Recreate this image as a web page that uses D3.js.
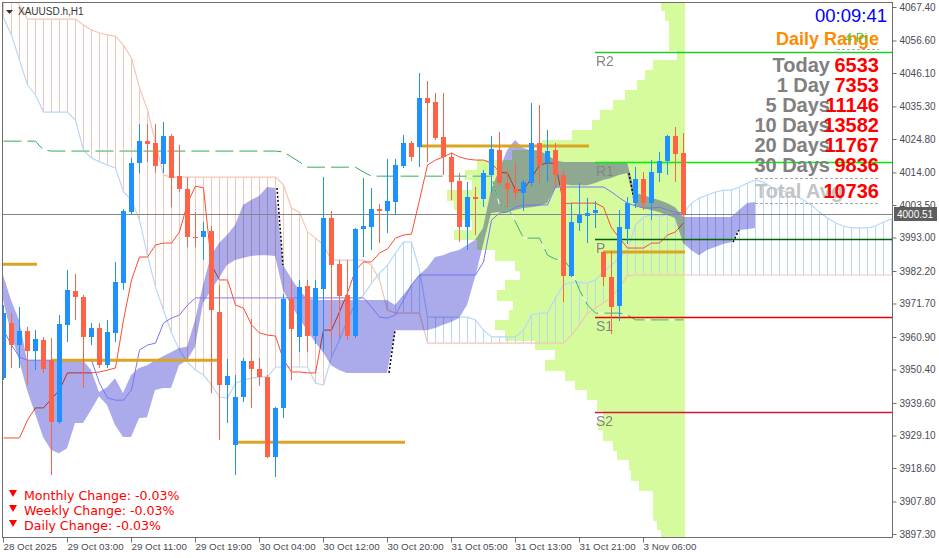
<!DOCTYPE html>
<html><head><meta charset="utf-8">
<script src="https://cdn.jsdelivr.net/npm/d3@7"></script>
<style>
html,body{margin:0;padding:0;background:#fff;}
svg{display:block;}
</style></head><body>
<svg id="chart" width="939" height="558"></svg>
<script>
// ---------------- DATA ----------------
const symbolTitle = "XAUUSD.h,H1";
const open = [3947.6,3965.4,3958.3,3962.8,3956.4,3959.9,3953.4,3933.4,3964.8,3975.7,
 3973.8,3960.9,3963.8,3951.8,3962.2,3978.3,4001.2,4017.0,4024.2,4023.5,
 4016.7,4025.8,4012.8,4008.7,3993.2,3993.2,3995.1,3968.9,3945.4,3926.0,
 3941.5,3953.1,3950.5,3948.0,3922.2,3938.0,3973.1,3960.9,3977.3,3961.2,
 3976.4,3999.3,3984.4,3974.4,3961.2,3995.7,3996.4,4002.2,4001.6,4004.5,
 4016.1,4023.5,4022.3,4038.0,4036.7,4025.4,4019.0,4011.2,3996.4,4006.1,
 4005.4,4013.2,4021.2,4010.6,4008.7,4007.4,4010.6,4023.5,4017.0,4021.2,
 4013.2,3980.6,3997.7,3999.9,4000.9,3988.3,3980.2,3970.9,3995.7,4004.1,
 4011.9,4004.1,4013.8,4017.7,4025.8,4020.3];
const high = [3971.2,3968.6,3970.6,3964.1,3963.1,3960.9,3960.6,3968.0,3982.5,3981.1,
 3974.4,3965.4,3965.4,3966.4,3985.1,4002.2,4018.7,4029.6,4029.6,4029.6,
 4030.3,4026.4,4022.9,4012.5,4001.2,3998.0,3996.7,3977.7,3953.8,3948.6,
 3954.1,3966.7,3954.1,3948.6,3938.3,3974.8,3978.6,3979.3,3979.3,3979.3,
 4012.5,4001.5,3985.7,3985.7,3996.0,4012.2,4009.0,4003.9,4018.3,4018.3,
 4026.1,4024.2,4046.1,4043.5,4039.6,4039.6,4020.3,4013.8,4010.9,4009.3,
 4014.8,4025.8,4027.1,4014.8,4017.4,4011.6,4036.4,4035.8,4027.7,4023.5,
 4014.8,4004.1,4010.6,4005.8,4004.8,3988.6,3988.6,4001.9,4006.1,4015.7,
 4014.1,4018.0,4020.6,4026.1,4028.7,4026.7];
const low = [3947.0,3950.9,3950.9,3945.4,3950.2,3949.2,3916.3,3932.8,3959.2,3966.4,
 3944.4,3958.3,3950.9,3950.9,3959.2,3976.0,4000.2,4013.8,4017.4,4013.8,
 4013.8,4002.8,4007.7,3989.9,3989.9,3985.7,3942.8,3927.6,3933.1,3916.3,
 3939.9,3938.0,3945.1,3921.8,3915.7,3934.7,3947.0,3956.0,3956.0,3958.5,
 3956.7,3960.9,3961.2,3959.9,3960.6,3986.7,3989.0,3991.2,3994.4,4000.2,
 4015.4,4017.7,4015.7,4017.4,4024.5,4013.2,4005.1,3991.5,3989.0,3993.8,
 4002.8,4007.4,4009.9,4002.5,4005.1,4001.5,4009.6,4010.6,4010.9,4009.3,
 3972.2,3980.2,3995.1,3991.2,3996.0,3977.3,3961.8,3966.0,3990.8,4002.5,
 4001.9,3998.6,4010.9,4013.2,4010.9,3999.6];
const close = [3968.6,3958.3,3962.8,3956.4,3960.2,3950.5,3933.4,3965.1,3976.0,3973.8,
 3960.9,3963.8,3951.8,3962.5,3978.6,4001.5,4017.0,4024.2,4023.2,4016.1,
 4025.8,4012.2,4008.7,3993.2,3992.8,3995.1,3969.6,3945.4,3948.3,3941.5,
 3953.1,3950.5,3948.0,3922.2,3938.0,3973.1,3963.4,3977.0,3961.2,3976.7,
 3999.3,3984.1,3974.1,3961.2,3995.7,3996.7,4002.2,4001.6,4004.8,4016.4,
 4023.5,4019.0,4038.0,4036.4,4025.1,4019.0,4010.9,3996.4,4006.1,4005.4,
 4013.8,4021.6,4010.6,4008.7,4007.4,4010.9,4023.5,4016.4,4020.9,4013.2,
 3980.6,3998.0,4000.3,4000.9,4001.9,3980.2,3970.6,3996.4,4004.1,4011.9,
 4004.1,4014.1,4017.7,4025.8,4020.0,4000.51];

const tenkan = [3928.3,3928.3,3928.3,3934.1,3938.0,3938.0,3940.9,3943.8,3949.3,3949.3,
 3949.3,3949.3,3949.6,3950.2,3950.9,3966.4,3979.3,3986.7,3986.7,3990.6,
 3991.2,3991.2,3994.8,4004.1,4009.6,4009.0,3984.1,3979.3,3979.3,3971.2,
 3970.2,3964.8,3962.2,3961.5,3961.2,3953.5,3949.6,3949.6,3949.3,3949.3,
 3963.1,3963.1,3969.0,3975.1,3982.5,3985.1,3985.1,3988.0,3989.3,3992.8,
 3993.8,3994.1,4005.1,4016.4,4018.0,4019.0,4020.3,4019.0,4018.3,4018.0,
 4018.0,4017.0,4014.1,4013.8,4008.3,4008.3,4012.2,4016.4,4017.0,4017.0,
 4003.8,4004.1,4004.1,4004.1,4004.1,4002.8,3996.1,3992.8,3989.6,3989.6,
 3989.6,3991.2,3991.2,3993.8,3994.8,3997.7];
const kijun = [3963.1,3958.3,3954.4,3953.4,3953.4,3953.4,3953.4,3953.4,3953.4,3953.4,
 3953.4,3953.4,3946.0,3941.2,3940.5,3940.5,3943.8,3956.7,3958.3,3958.9,
 3965.4,3967.0,3968.0,3971.2,3973.5,3973.5,3973.5,3973.5,3973.5,3973.5,
 3973.5,3973.5,3973.5,3973.5,3973.5,3973.5,3973.5,3973.5,3973.5,3973.5,
 3973.5,3973.5,3973.5,3973.5,3973.5,3973.5,3970.6,3967.3,3967.0,3968.0,
 3972.8,3977.7,3980.9,3980.9,3980.9,3980.9,3980.9,3980.9,3980.9,3980.9,
 3985.1,3998.6,4000.9,4001.2,4002.8,4003.5,4003.5,4003.5,4003.5,4009.3,
 4009.3,4009.3,4009.3,4009.3,4009.3,4009.3,4007.7,4005.8,4004.1,4003.2,
 4002.5,4002.5,4002.8,4001.9,4001.2,4000.9];
const greenLine = [4024.1,4024.1,4024.1,4024.1,4024.1,4021.2,4020.9,4020.9,4020.9,4020.9,
 4020.9,4020.9,4020.9,4020.9,4020.9,4020.9,4020.9,4020.9,4020.9,4020.9,
 4020.9,4020.9,4020.9,4020.9,4020.9,4020.9,4020.9,4020.9,4020.9,4020.9,
 4020.9,4020.9,4020.9,4020.9,4020.9,4020.6,4019.0,4017.4,4015.7,4015.7,
 4015.7,4015.7,4015.7,4015.7,4015.7,4014.1,4012.8,4012.8,4012.8,4012.8,
 4012.8,4012.8,4012.8,4012.8,4012.8,4012.8,4012.8,4012.8,4012.8,4012.8,
 4012.8,4012.8,4003.5,4002.8,3998.0,3992.8,3992.8,3992.8,3987.3,3986.0,
 3986.0,3982.5,3976.0,3971.2,3968.6,3968.6,3968.6,3968.6,3968.0,3966.4,
 3966.4,3966.4,3966.4,3966.4,3966.4,3966.4];
const spanA = [4063.9,4058.4,4050.3,4042.2,4039.0,4033.5,4033.5,4033.5,4033.5,4030.9,
 4021.2,4018.7,4017.4,4016.4,4015.4,4007.7,4005.1,3998.6,3987.3,3977.0,
 3969.6,3962.2,3956.7,3952.8,3950.2,3948.6,3945.4,3941.5,3941.2,3946.0,
 3947.0,3947.6,3948.0,3948.0,3951.2,3951.2,3951.2,3951.2,3951.2,3946.0,
 3945.4,3954.4,3959.9,3966.4,3971.9,3974.4,3978.3,3981.5,3984.1,3988.0,
 3991.5,3991.5,3982.5,3967.3,3967.3,3967.3,3967.3,3967.3,3967.3,3966.4,
 3963.1,3960.9,3960.9,3960.9,3960.9,3963.1,3968.0,3968.6,3968.6,3973.5,
 3977.7,3978.6,3978.6,3978.3,3979.3,3981.9,3984.1,3986.4,3989.0,3997.0,
 3999.6,4000.3,3999.9,4000.3,4000.6,4000.9,4004.1,4005.8,4006.7,4007.7,
 4008.3,4008.3,4009.3,4010.6,4011.6,4010.9,4009.3,4008.3,4007.7,4006.4,
 4005.1,4003.5,4001.2,3999.3,3997.7,3996.7,3996.1,3996.1,3996.1,3996.7,
 3998.0,3999.0];
const spanB = [4074.5,4071.3,4068.0,4063.5,4063.5,4063.5,4063.5,4063.5,4063.5,4063.5,
 4061.6,4060.0,4059.0,4058.4,4058.0,4055.1,4050.9,4041.3,4034.2,4023.5,
 4013.2,4012.5,4012.5,4012.5,4012.5,4012.5,4012.5,4012.5,4012.5,4012.5,
 4012.5,4012.5,4012.5,4012.5,4012.5,4009.9,4002.5,4001.2,3994.8,3992.8,
 3990.6,3985.7,3985.7,3985.7,3985.7,3985.7,3984.1,3979.3,3969.6,3968.6,
 3968.6,3968.6,3968.6,3958.9,3958.9,3958.9,3958.9,3958.9,3958.9,3958.9,
 3958.9,3958.9,3958.9,3958.9,3958.9,3958.9,3958.9,3958.9,3958.9,3958.9,
 3958.9,3961.5,3964.8,3968.6,3970.2,3971.9,3973.8,3977.0,3980.6,3980.9,
 3980.9,3980.9,3980.9,3980.9,3980.9,3980.9,3980.9,3980.9,3980.9,3980.9,
 3980.9,3980.9,3980.9,3980.9,3980.9,3980.9,3980.9,3980.9,3980.9,3980.9,
 3980.9,3980.9,3980.9,3980.9,3980.9,3980.9,3980.9,3980.9,3980.9,3980.9,
 3980.9,3980.9];
const cloudTop = [3980.9,3972.8,3966.4,3953.4,3953.4,3953.4,3953.4,3953.4,3953.4,3953.4,
 3953.4,3950.2,3943.1,3944.7,3947.6,3942.8,3948.6,3950.9,3951.8,3953.4,
 3954.7,3956.0,3957.3,3957.7,3966.4,3977.7,3987.3,3991.2,3993.8,3997.0,
 4003.5,4005.1,4006.4,4009.3,4009.0,3984.1,3979.9,3976.0,3973.5,3972.8,
 3972.8,3972.8,3972.8,3972.8,3972.8,3972.8,3972.8,3972.8,3972.8,3971.2,
 3974.4,3977.7,3980.9,3983.2,3986.7,3987.3,3988.3,3989.0,3990.6,3992.2,
 3996.1,4008.3,4014.8,4021.2,4024.5,4021.9,4021.2,4021.2,4019.6,4018.0,
 4017.4,4017.4,4017.4,4017.4,4017.4,4017.4,4017.4,4017.4,4017.4,4007.4,
 4006.7,4005.8,4005.1,4004.1,4002.8,3999.6,3999.6,3999.6,3999.6,3999.6,
 3999.6,3999.6,4001.9,4004.1,4004.5];
const cloudBottom = [3972.8,3962.2,3953.4,3943.8,3936.3,3928.6,3924.4,3923.4,3925.0,3933.1,
 3933.1,3937.3,3941.8,3938.9,3932.5,3928.6,3928.6,3934.7,3935.0,3943.8,
 3944.4,3944.4,3951.8,3953.4,3957.7,3971.9,3976.0,3979.9,3984.1,3985.7,
 3986.4,3987.0,3987.3,3987.3,3987.0,3976.0,3971.2,3967.0,3963.1,3959.3,
 3956.0,3951.8,3950.2,3949.3,3949.3,3949.3,3949.3,3949.3,3949.3,3963.1,
 3963.1,3963.1,3963.1,3963.1,3963.8,3964.8,3965.7,3967.0,3971.2,3980.2,
 3990.6,4000.9,4001.2,4001.2,4001.9,4002.5,4002.8,4003.2,4004.1,4009.0,
 4010.3,4009.9,4009.9,4009.9,4010.6,4011.6,4012.2,4013.2,4013.8,4003.5,
 4002.5,4001.9,4001.2,4000.3,3999.3,3991.2,3989.0,3987.3,3989.0,3989.9,
 3990.9,3991.5,3995.4,3995.7,3996.1];
const cloudTwists = [34, 48, 78, 91];

const profileLevels = [4068.0,4064.8,4061.6,4058.4,4055.1,4051.9,4048.7,4045.5,4042.2,4039.0,
 4035.8,4032.5,4029.3,4026.1,4022.9,4019.6,4016.4,4013.2,4009.9,4006.7,
 4003.5,4000.3,3997.0,3993.8,3990.6,3987.3,3984.1,3980.9,3977.7,3974.4,
 3971.2,3968.0,3964.8,3961.5,3958.3,3955.1,3951.8,3948.6,3945.4,3942.2,
 3938.9,3935.7,3932.5,3929.2,3926.0,3922.8,3919.6,3916.3,3913.1,3909.9,
 3906.6,3903.4,3900.2,3897.0];
const profileVolumes = [24,20,16,16,16,8,32,40,48,60,72,85,93,113,143,173,208,220,213,238,
 231,225,213,231,208,190,170,165,180,188,172,176,190,180,150,130,140,120,110,98,
 88,82,87,82,72,68,56,54,46,32,32,32,28,24];

const dayStartBar = [0, 6, 29, 52, 75];
const dayEndBar   = [4, 27, 50, 73, 85];
const dayLevel    = [3984.4, 3953.4, 3926.9, 4022.5, 3988.3];

const pivotNames  = ["R2","R1","P","S1","S2"];
const pivotValues = [4052.9, 4017.4, 3992.5, 3967.3, 3936.7];
const pivotStartBar = 74;

const bidPrice = 4000.51;
const priceTicks = [4067.40,4056.60,4046.10,4035.30,4024.80,4014.00,4003.50,3993.00,3982.20,
 3971.70,3960.90,3950.40,3939.60,3929.10,3918.60,3907.80,3897.30];
const timeTickBars = [0,8,16,24,32,40,48,56,64,72,80];
const timeLabels = ["28 Oct 2025","29 Oct 03:00","29 Oct 11:00","29 Oct 19:00","30 Oct 04:00",
 "30 Oct 12:00","30 Oct 20:00","31 Oct 05:00","31 Oct 13:00","31 Oct 21:00","3 Nov 06:00"];

const timerText = "00:09:41";
const rangeTitle = "Daily Range";
const statLabels = ["Today","1 Day","5 Days","10 Days","20 Days","30 Days","Total Avg"];
const statValues = [6533, 7353, 11146, 13582, 11767, 9836, 10736];
const changeLabels = ["Monthly Change: ","Weekly Change: ","Daily Change: "];
const changeValues = [-0.03, -0.03, -0.03];

// ---------------- CHART ----------------
const svg = d3.select("#chart");
const FONT = "'Liberation Sans', Arial, sans-serif";
const x = d3.scaleLinear().domain([0, 111]).range([3, 891]);
const y = d3.scaleLinear().domain([3897.3, 4067.4]).range([534, 7]);
const PL = 3, PR = 892, PT = 3, PB = 537;

svg.append("rect").attr("width",939).attr("height",558).attr("fill","#fff");
svg.append("defs").append("clipPath").attr("id","plot")
  .append("rect").attr("x",PL).attr("y",PT).attr("width",PR-PL).attr("height",PB-PT);
const plot = svg.append("g").attr("clip-path","url(#plot)");

// volume profile
const profileRight = x(85) + 1.5;
const step = profileLevels[0] - profileLevels[1];
const wScale = d3.scaleLinear().domain([0, 1]).range([0, 1]);
plot.append("g").attr("shape-rendering","crispEdges").selectAll("rect")
  .data(profileLevels).join("rect")
  .attr("x",(d,i)=>profileRight - wScale(profileVolumes[i]))
  .attr("width",(d,i)=>wScale(profileVolumes[i]))
  .attr("y",d=>y(d+step/2))
  .attr("height",d=>y(d-step/2)-y(d+step/2)+0.5)
  .attr("fill","#D5FB9D");

// span hatch
const PEACH = "#F4C6B4", LBLUE = "#B8D8F8";
plot.append("g").attr("shape-rendering","crispEdges").selectAll("line")
  .data(spanA).join("line")
  .attr("x1",(d,i)=>Math.round(x(i))+0.5).attr("x2",(d,i)=>Math.round(x(i))+0.5)
  .attr("y1",d=>y(d)).attr("y2",(d,i)=>y(spanB[i]))
  .attr("stroke",(d,i)=>spanB[i] > d ? PEACH : LBLUE).attr("stroke-width",1);

const lineGen = d3.line().x((d,i)=>Math.round(x(i))+0.5).y(d=>y(d));
plot.append("path").datum(spanB).attr("d",lineGen).attr("fill","none").attr("stroke",PEACH).attr("stroke-width",1.2);
plot.append("path").datum(spanA).attr("d",lineGen).attr("fill","none").attr("stroke",LBLUE).attr("stroke-width",1.2);

// tenkan (under cloud)
plot.append("path").datum(tenkan).attr("d",lineGen).attr("fill","none").attr("stroke","#FF4A30").attr("stroke-width",1);

// purple cloud
const area = d3.area().x((d,i)=>x(i)).y0((d,i)=>y(cloudBottom[i])).y1(d=>y(d));
plot.append("path").datum(cloudTop).attr("d",area).attr("fill","#ABABEC")
  .style("mix-blend-mode","multiply");
cloudTwists.forEach(k=>{
  const useTop = Math.abs(cloudTop[k]-cloudTop[k+1]) >= Math.abs(cloudBottom[k]-cloudBottom[k+1]);
  const a = useTop ? cloudTop : cloudBottom;
  plot.append("line").attr("x1",x(k)+2).attr("x2",x(k+1)).attr("y1",y(a[k])).attr("y2",y(a[k+1]))
    .attr("stroke","#000").attr("stroke-width",1.5).attr("stroke-dasharray","2,2");
});

// kijun
plot.append("path").datum(kijun).attr("d",lineGen).attr("fill","none").attr("stroke","#7676F4").attr("stroke-width",1);
// green dashed line
plot.append("path").datum(greenLine).attr("d",lineGen).attr("fill","none").attr("stroke","#fff").attr("stroke-width",1);
plot.append("path").datum(greenLine).attr("d",lineGen).attr("fill","none").attr("stroke","#33AA5A")
  .attr("stroke-width",1).attr("stroke-dasharray","18,6");

// bid line
plot.append("line").attr("x1",PL).attr("x2",PR).attr("y1",Math.round(y(bidPrice))+0.5).attr("y2",Math.round(y(bidPrice))+0.5)
  .attr("stroke","#858585").attr("stroke-width",1);

// pivots
const pivotColors = ["#22CC22","#00F000","#006400","#F00000","#DC143C"];
const pg = plot.append("g");
pivotValues.forEach((v,i)=>{
  const yy = Math.round(y(v))+0.5;
  pg.append("line").attr("x1",x(pivotStartBar)).attr("x2",PR).attr("y1",yy).attr("y2",yy)
    .attr("stroke",pivotColors[i]).attr("stroke-width",1.3);
  pg.append("text").attr("x",x(pivotStartBar)+1).attr("y",yy+13).text(pivotNames[i])
    .attr("font-family",FONT).attr("font-size",14).attr("fill","#858585");
});

// daily levels
dayLevel.forEach((v,i)=>{
  plot.append("line").attr("x1",x(dayStartBar[i])).attr("x2",x(dayEndBar[i])+2)
    .attr("y1",y(v)).attr("y2",y(v)).attr("stroke","#DAA520").attr("stroke-width",3);
});

// candles
const cg = plot.append("g").attr("shape-rendering","crispEdges");
open.forEach((o,i)=>{
  const c = close[i], up = c >= o, col = up ? "#1E90FF" : "#FF6347";
  const cx = Math.round(x(i));
  cg.append("line").attr("x1",cx+0.5).attr("x2",cx+0.5).attr("y1",y(high[i])).attr("y2",y(low[i]))
    .attr("stroke",col).attr("stroke-width",1);
  const yt = y(Math.max(o,c)), yb = y(Math.min(o,c));
  cg.append("rect").attr("x",cx-2).attr("width",5).attr("y",yt).attr("height",Math.max(1.5,yb-yt)).attr("fill",col);
});

// ---------- axes & frame ----------
const frame = svg.append("g").attr("stroke","#6E6E6E").attr("stroke-width",1).attr("shape-rendering","crispEdges");
frame.append("line").attr("x1",2.5).attr("x2",2.5).attr("y1",2).attr("y2",538);
frame.append("line").attr("x1",2).attr("x2",893).attr("y1",2.5).attr("y2",2.5);
frame.append("line").attr("x1",892.5).attr("x2",892.5).attr("y1",2).attr("y2",538);
frame.append("line").attr("x1",2).attr("x2",893).attr("y1",537.5).attr("y2",537.5);

const yAxis = svg.append("g").attr("transform","translate(892.5,0)")
  .call(d3.axisRight(y).tickValues(priceTicks).tickFormat(d3.format(".2f")).tickSize(4).tickPadding(3));
yAxis.select(".domain").remove();
yAxis.selectAll("line").attr("stroke","#6E6E6E");
yAxis.selectAll("text").attr("font-family",FONT).attr("font-size",10).attr("fill","#4A4A55");

const xAxis = svg.append("g").attr("transform","translate(0,537.5)")
  .call(d3.axisBottom(x).tickValues(timeTickBars).tickFormat((d,i)=>timeLabels[i]).tickSize(5).tickPadding(1));
xAxis.select(".domain").remove();
xAxis.selectAll("line").attr("stroke","#6E6E6E");
xAxis.selectAll("text").attr("font-family",FONT).attr("font-size",9.8).attr("fill","#4A4A55").attr("text-anchor","start");

// bid label
const by = Math.round(y(bidPrice));
svg.append("rect").attr("x",894).attr("y",by-7).attr("width",43).attr("height",14).attr("fill","#5E5E5E");
svg.append("text").attr("x",897).attr("y",by+4).text(bidPrice.toFixed(2))
  .attr("font-family",FONT).attr("font-size",10).attr("fill","#fff");

// title
svg.append("path").attr("d","M6,10 L13,10 L9.5,14 Z").attr("fill","#333");
svg.append("text").attr("x",18).attr("y",15).text(symbolTitle)
  .attr("font-family",FONT).attr("font-size",10).attr("fill","#333");

// info panel
svg.append("text").attr("x",887).attr("y",22).attr("text-anchor","end").text(timerText)
  .attr("font-family",FONT).attr("font-size",18.5).attr("fill","#0000FF");
svg.append("text").attr("x",879).attr("y",45).attr("text-anchor","end").text(rangeTitle)
  .attr("font-family",FONT).attr("font-size",18).attr("font-weight","bold").attr("fill","#FF8C00");
svg.append("text").attr("x",845).attr("y",42).text("4 Pi")
  .attr("font-family",FONT).attr("font-size",13).attr("fill","#3CCB3C").attr("opacity",0.9);
const dash = svg.append("g").attr("stroke","#A8A8A8").attr("stroke-dasharray","3,2").attr("stroke-width",1);
dash.append("line").attr("x1",837).attr("x2",879).attr("y1",49.5).attr("y2",49.5);
dash.append("line").attr("x1",755).attr("x2",879).attr("y1",178.5).attr("y2",178.5);
dash.append("line").attr("x1",755).attr("x2",879).attr("y1",203.5).attr("y2",203.5);
const statBase = [72, 92, 112, 132, 152, 172, 198];
statLabels.forEach((s,i)=>{
  const last = i === statLabels.length-1;
  svg.append("text").attr("x", last ? 755 : 830).attr("y",statBase[i])
    .attr("text-anchor", last ? "start" : "end").text(s)
    .attr("font-family",FONT).attr("font-size",20).attr("font-weight","bold")
    .attr("fill", last ? "#C4C4C4" : "#808080");
  svg.append("text").attr("x",879).attr("y",statBase[i]).attr("text-anchor","end").text(statValues[i])
    .attr("font-family",FONT).attr("font-size",20).attr("font-weight","bold").attr("fill","#FF0000");
});

// change texts
const chBase = [500, 515, 530];
changeLabels.forEach((s,i)=>{
  const b = chBase[i];
  svg.append("path").attr("d",`M9,${b-10} L17,${b-10} L13,${b-3} Z`).attr("fill","#FF0000");
  svg.append("text").attr("x",24).attr("y",b).text(s + changeValues[i].toFixed(2) + "%")
    .attr("font-family","'DejaVu Sans', sans-serif").attr("font-size",12.6).attr("fill","#FF0000");
});
</script>
</body></html>
